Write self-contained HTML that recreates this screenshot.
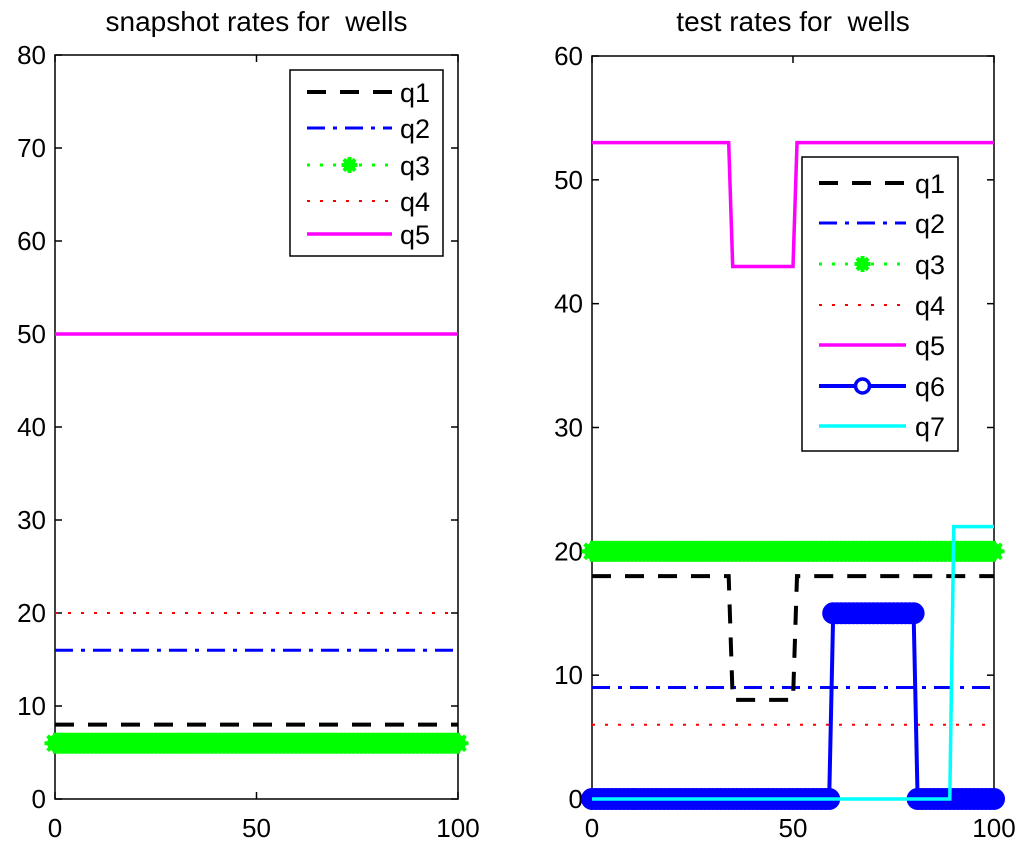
<!DOCTYPE html>
<html><head><meta charset="utf-8"><style>
html,body{margin:0;padding:0;background:#fff;}
svg{display:block;font-family:"Liberation Sans",Arial,sans-serif;}
text{white-space:pre;}
</style></head><body>
<svg id="c" width="1024" height="848" viewBox="0 0 1024 848" xmlns="http://www.w3.org/2000/svg"></svg>
<script>
// ---- data: left (snapshot) ----
const snapT = [0, 100];
const snapQ1 = [8, 8];
const snapQ2 = [16, 16];
const snapQ3 = [6, 6];
const snapQ4 = [20, 20];
const snapQ5 = [50, 50];
const snapYTicks = [0,10,20,30,40,50,60,70,80];
// ---- data: right (test) ----
const q1T = [0, 34, 35, 50, 51, 100];
const q1V = [18, 18, 8, 8, 18, 18];
const q2T = [0, 100];
const q2V = [9, 9];
const q3T = [0, 100];
const q3V = [20, 20];
const q4T = [0, 100];
const q4V = [6, 6];
const q5T = [0, 34, 35, 50, 51, 100];
const q5V = [53, 53, 43, 43, 53, 53];
const q6T = [0, 59, 60, 80, 81, 100];
const q6V = [0, 0, 15, 15, 0, 0];
const q7T = [0, 89, 90, 100];
const q7V = [0, 0, 22, 22];
const testYTicks = [0,10,20,30,40,50,60];
const xTicks = [0, 50, 100];

const NS = "http://www.w3.org/2000/svg";
const svg = document.getElementById('c');
function el(tag, attrs, parent){
  const e = document.createElementNS(NS, tag);
  for (const k in attrs) e.setAttribute(k, attrs[k]);
  (parent||svg).appendChild(e);
  return e;
}
function interp(T, V, t){
  for (let i=0;i<T.length-1;i++){
    if (t>=T[i] && t<=T[i+1]){
      if (T[i+1]===T[i]) return V[i];
      return V[i] + (V[i+1]-V[i])*(t-T[i])/(T[i+1]-T[i]);
    }
  }
  return V[V.length-1];
}
function makeAxes(x0, x1, y0, y1, ymax, yTicks, title, name){
  const g = el('g', {});
  
  
  const sx = t => x0 + (x1-x0)*t/100;
  const sy = v => y1 - (y1-y0)*v/ymax;
  const ax = el('rect', {x:x0, y:y0, width:x1-x0, height:y1-y0, fill:'none', stroke:'#000', 'stroke-width':1.5}, g);
  
  
  yTicks.forEach(v=>{
    const y = sy(v);
    el('line',{x1:x0,y1:y,x2:x0+7,y2:y,stroke:'#000','stroke-width':1.5},g);
    el('line',{x1:x1,y1:y,x2:x1-7,y2:y,stroke:'#000','stroke-width':1.5},g);
    const t = el('text',{x:x0-9,y:y+9,'text-anchor':'end','font-size':26},g);
    t.textContent = v;
    
    
  });
  xTicks.forEach(v=>{
    const x = sx(v);
    el('line',{x1:x,y1:y1,x2:x,y2:y1-7,stroke:'#000','stroke-width':1.5},g);
    el('line',{x1:x,y1:y0,x2:x,y2:y0+7,stroke:'#000','stroke-width':1.5},g);
    const t = el('text',{x:x,y:y1+38,'text-anchor':'middle','font-size':26},g);
    t.textContent = v;
    
    
  });
  const tt = el('text',{x:(x0+x1)/2,y:31,'text-anchor':'middle','font-size':28},g);
  tt.textContent = title;
  
  
  return {sx, sy, g};
}
const styles = {
  q1:{stroke:'#000','stroke-width':4,'stroke-dasharray':'19 14'},
  q2:{stroke:'#0000ff','stroke-width':3,'stroke-dasharray':'18 8 4 8'},
  q3:{stroke:'#00ff00','stroke-width':3,'stroke-dasharray':'3 10'},
  q4:{stroke:'#ff0000','stroke-width':2,'stroke-dasharray':'3 10'},
  q5:{stroke:'#ff00ff','stroke-width':3.5},
  q6:{stroke:'#0000ff','stroke-width':4},
  q7:{stroke:'#00ffff','stroke-width':3.5}
};
function series(ax, T, V, key, name){
  const pts = T.map((t,i)=>ax.sx(t)+','+ax.sy(V[i])).join(' ');
  const a = Object.assign({points:pts, fill:'none','stroke-linejoin':'miter'}, styles[key]);
  const p = el('polyline', a, ax.g);
  
  
  return p;
}
function asterisk(g, x, y, r, color){
  for (let k=0;k<4;k++){
    const a = k*Math.PI/4;
    el('line',{x1:x-r*Math.cos(a),y1:y-r*Math.sin(a),x2:x+r*Math.cos(a),y2:y+r*Math.sin(a),stroke:color,'stroke-width':4},g);
  }
  el('circle',{cx:x,cy:y,r:r*0.75,fill:color},g);
}
function q3Markers(ax, T, V, name){
  const g = el('g',{}, ax.g);
  
  
  for (let t=0;t<=100;t++) asterisk(g, ax.sx(t), ax.sy(interp(T,V,t)), 10.5, '#00ff00');
}
function q6Markers(ax, T, V, name){
  const g = el('g',{}, ax.g);
  
  
  for (let t=0;t<=100;t++) el('circle',{cx:ax.sx(t),cy:ax.sy(interp(T,V,t)),r:9.5,fill:'#0000ff',stroke:'#0000ff','stroke-width':3},g);
}
function legend(g, x, y, w, h, rows, lx0, lx1, tx){
  const lg = el('g',{},g);
  
  
  el('rect',{x:x,y:y,width:w,height:h,fill:'#fff',stroke:'#000','stroke-width':1.5},lg);
  rows.forEach(r=>{
    const e = el('g',{},lg);
    
    
    el('line',Object.assign({x1:lx0,y1:r.y,x2:lx1,y2:r.y},styles[r.key]),e);
    if (r.key==='q3') asterisk(e,(lx0+lx1)/2,r.y,8,'#00ff00');
    if (r.key==='q6') el('circle',{cx:(lx0+lx1)/2,cy:r.y,r:7,fill:'#fff',stroke:'#0000ff','stroke-width':3.5},e);
    const t = el('text',{x:tx,y:r.y+10,'font-size':27},e);
    t.textContent = r.key;
  });
}

// Left plot
const L = makeAxes(55, 458, 55, 799, 80, snapYTicks, 'snapshot rates for  wells', 'snapshot-plot');
series(L, snapT, snapQ5, 'q5', 'line-q5');
series(L, snapT, snapQ4, 'q4', 'line-q4');
series(L, snapT, snapQ2, 'q2', 'line-q2');
series(L, snapT, snapQ1, 'q1', 'line-q1');
series(L, snapT, snapQ3, 'q3', 'line-q3');
q3Markers(L, snapT, snapQ3, 'markers-q3');
legend(L.g, 290, 70, 153, 186, [
  {key:'q1',y:92},{key:'q2',y:128},{key:'q3',y:165},{key:'q4',y:201},{key:'q5',y:234}
], 307, 392, 400);

// Right plot
const R = makeAxes(592, 994, 56, 799, 60, testYTicks, 'test rates for  wells', 'test-plot');
series(R, q5T, q5V, 'q5', 'line-q5');
series(R, q4T, q4V, 'q4', 'line-q4');
series(R, q2T, q2V, 'q2', 'line-q2');
series(R, q1T, q1V, 'q1', 'line-q1');
series(R, q3T, q3V, 'q3', 'line-q3');
q3Markers(R, q3T, q3V, 'markers-q3');
series(R, q6T, q6V, 'q6', 'line-q6');
q6Markers(R, q6T, q6V, 'markers-q6');
series(R, q7T, q7V, 'q7', 'line-q7');
legend(R.g, 802, 157, 156, 294, [
  {key:'q1',y:183},{key:'q2',y:223},{key:'q3',y:264},{key:'q4',y:305},{key:'q5',y:345},{key:'q6',y:386},{key:'q7',y:426}
], 819, 906, 915);
</script>
</body></html>
